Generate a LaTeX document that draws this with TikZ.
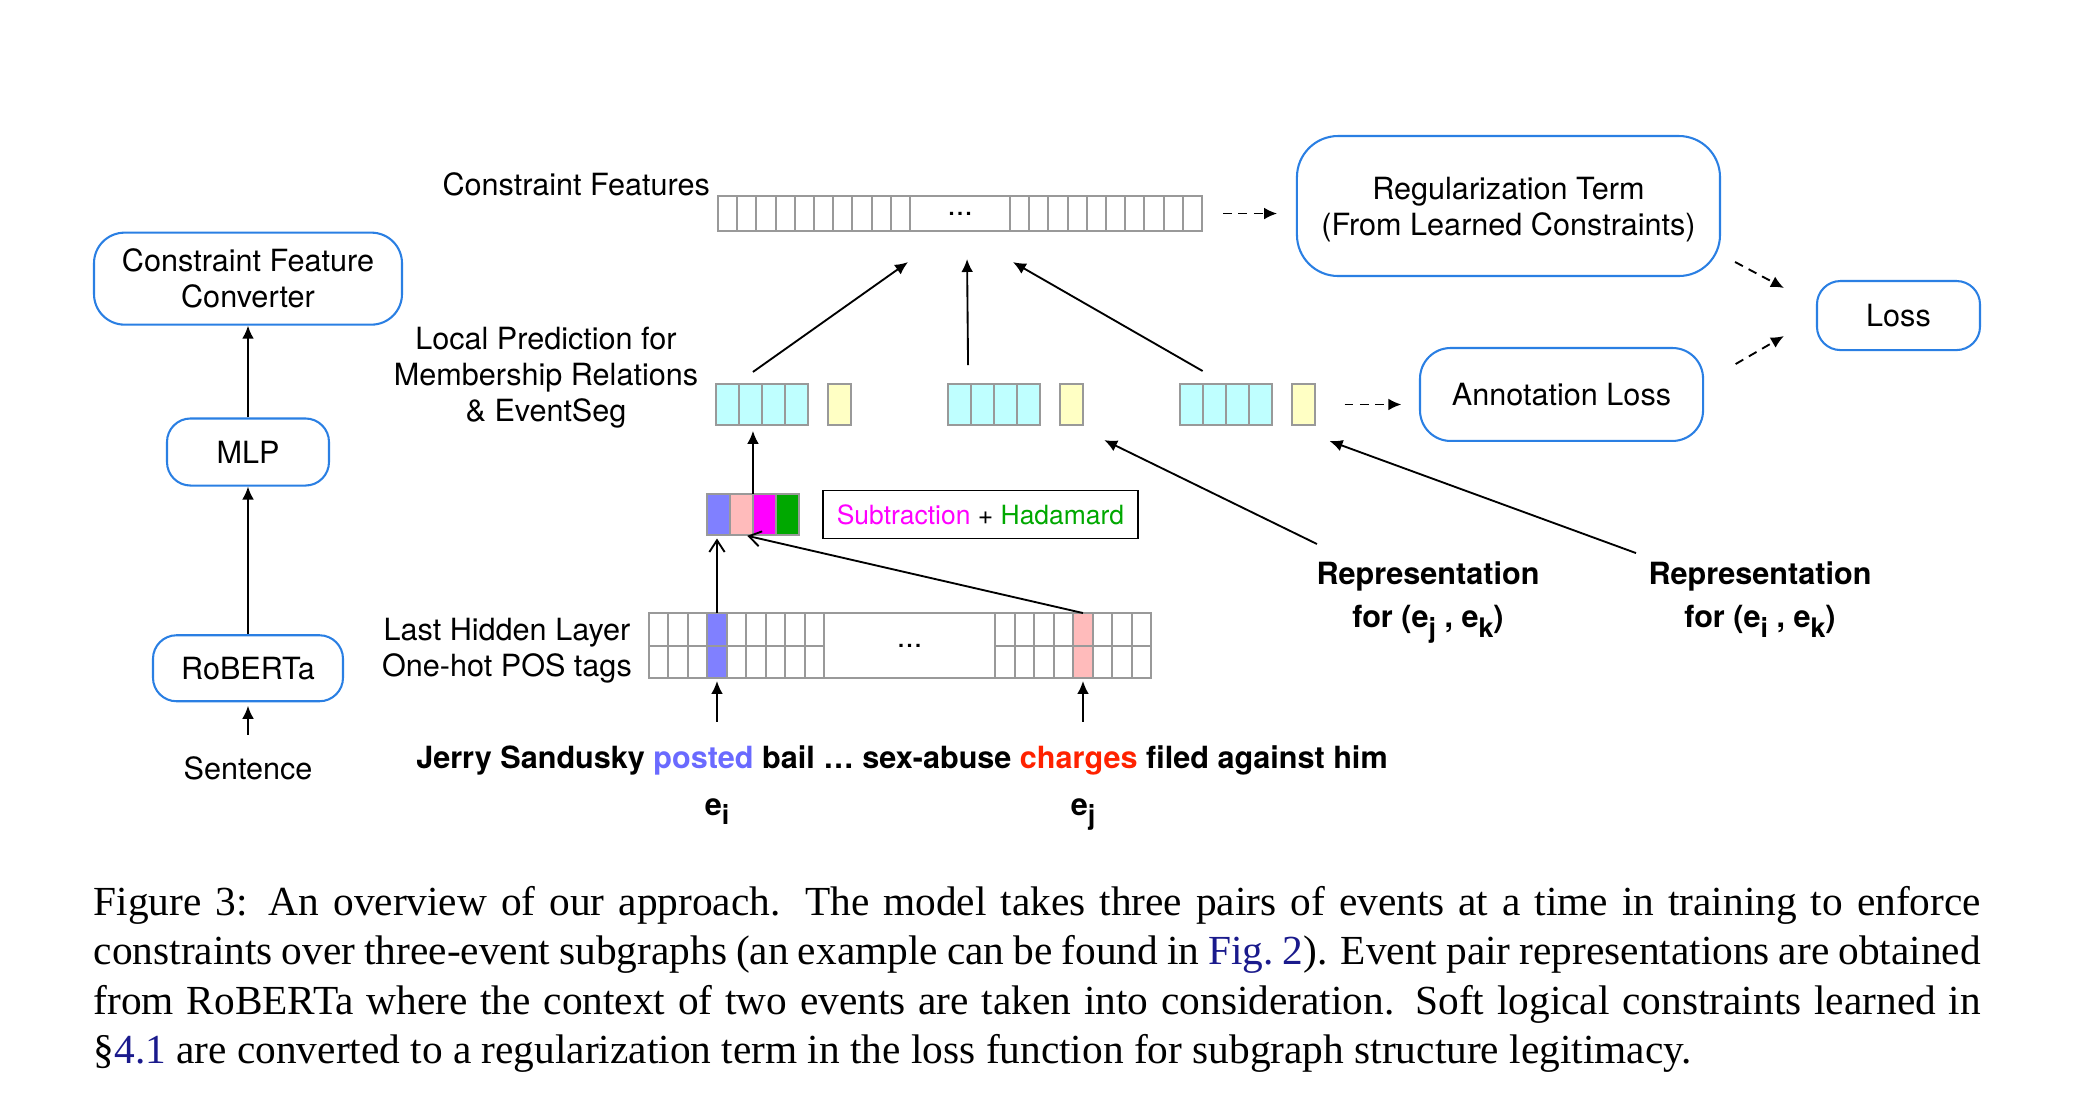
\documentclass[tikz,border=0pt]{standalone}
\usepackage{fontspec}
\setmainfont{TeX Gyre Heros}
\newfontfamily\capfont{Liberation Serif}
\usepackage{xcolor}
\usepackage{tikz}
\usetikzlibrary{arrows.meta,positioning,calc}
\definecolor{boxblue}{HTML}{2A7FE3}
\definecolor{cellgray}{HTML}{999999}
\definecolor{softcyan}{HTML}{BFFFFF}
\definecolor{softyellow}{HTML}{FFFFC4}
\definecolor{eventblue}{HTML}{8080FF}
\definecolor{eventpink}{HTML}{FFBBBB}
\definecolor{submagenta}{HTML}{FF00FF}
\definecolor{hadgreen}{HTML}{00A800}
\definecolor{postedblue}{HTML}{6A6AFF}
\definecolor{chargesred}{HTML}{FF2200}
\definecolor{linknavy}{HTML}{1A1A8C}
\newcommand{\diagfont}{\fontsize{7.4}{8.7}\selectfont}
\newcommand{\ev}[1]{e\raisebox{-0.32em}{\fontsize{6.5}{6.5}\selectfont #1}}
\tikzset{
  flow/.style={-{Latex[length=1.1mm,width=1mm]}, line width=0.45pt},
  barbflow/.style={-{Straight Barb[length=1mm,width=1.3mm]}, line width=0.45pt},
  dflow/.style={flow, dash pattern=on 0.75mm off 0.55mm},
  lbl/.style={font=\diagfont, align=center},
  roundbox/.style={draw=boxblue, line width=0.5pt, rounded corners=2mm, align=center,
                   font=\diagfont, inner sep=0pt},
  cellbar/.style={draw=cellgray, line width=0.5pt, inner sep=0pt, outer sep=0pt, fill=white, font=\diagfont},
  cellline/.style={draw=cellgray, line width=0.5pt},
  predvec/.style={cellbar, fill=softcyan, minimum width=7.82mm, minimum height=3.49mm},
  predbit/.style={cellbar, fill=softyellow, minimum width=1.955mm, minimum height=3.49mm},
  pairbit/.style={cellbar, minimum width=1.955mm, minimum height=3.49mm},
  hidbit/.style={cellbar, minimum width=1.6575mm, minimum height=5.525mm, anchor=south west}
}

\begin{document}
\begin{tikzpicture}[x=1mm, y=1mm]
  \useasboundingbox (0,0) rectangle (176.63,-94.95);

  % left column
  \node[lbl] (sentence) at (21.08,-65.28) {Sentence};
  \node[roundbox, above=3.35mm of sentence, minimum width=16.15mm, minimum height=5.61mm] (roberta) {RoBERTa};
  \node[roundbox, above=12.55mm of roberta, minimum width=13.77mm, minimum height=5.7mm] (mlp) {MLP};
  \node[roundbox, above=7.8mm of mlp, minimum width=26.18mm, minimum height=7.82mm, rounded corners=2.6mm] (converter) {Constraint Feature\\Converter};

  % constraint features
  \node[cellbar, minimum width=41.14mm, minimum height=2.975mm] (cfbar) at (81.6,-18.15) {...};
  \foreach \i in {1,...,10} {
    \draw[cellline] ([xshift=\i*1.632mm]cfbar.south west) -- ([xshift=\i*1.632mm]cfbar.north west);
    \draw[cellline] ([xshift=-\i*1.632mm]cfbar.south east) -- ([xshift=-\i*1.632mm]cfbar.north east);
  }
  \node[lbl, anchor=south east] (cflabel) at ([xshift=0.55mm,yshift=-1.26mm]cfbar.north west) {Constraint Features};

  % regularization and losses
  \node[roundbox, minimum width=35.96mm, minimum height=11.9mm, rounded corners=3.5mm, text depth=0pt] (reg) at (128.22,-17.51) {Regularization Term\\(From Learned Constraints)};
  \node[roundbox, minimum width=13.86mm, minimum height=5.87mm] (loss) at (161.37,-26.82) {Loss};
  \node[roundbox, minimum width=24.06mm, minimum height=7.9mm, rounded corners=2.6mm] (annot) at (132.73,-33.53) {Annotation Loss};

  % local predictions
  \node[predvec] (g1) at (64.77,-34.38) {};
  \node[predbit, right=1.7mm of g1] (y1) {};
  \node[predvec, right=8.25mm of y1] (g2) {};
  \node[predbit, right=1.7mm of g2] (y2) {};
  \node[predvec, right=8.25mm of y2] (g3) {};
  \node[predbit, right=1.7mm of g3] (y3) {};
  \foreach \g in {g1,g2,g3}
    \foreach \i in {1,2,3}
      \draw[cellline] ([xshift=\i*1.955mm]\g.south west) -- ([xshift=\i*1.955mm]\g.north west);
  \node[lbl] (predlabel) at (46.41,-32.11) {Local Prediction for\\Membership Relations\\\& EventSeg};

  % pair representation
  \node[pairbit, fill=eventblue] (cb1) at (61.07,-43.73) {};
  \node[pairbit, fill=eventpink, right=0mm of cb1] (cb2) {};
  \node[pairbit, fill=submagenta, right=0mm of cb2] (cb3) {};
  \node[pairbit, fill=hadgreen, right=0mm of cb3] (cb4) {};
  \node[draw, line width=0.45pt, minimum width=26.0mm, minimum height=4.08mm, outer sep=0pt,
        font=\fontsize{6.4}{7.5}\selectfont, right=2.04mm of cb4] (opbox)
        {\textcolor{submagenta}{Subtraction} + \textcolor{hadgreen}{Hadamard}};

  % hidden layer
  \node[cellbar, minimum width=42.71mm, minimum height=5.525mm] (hidden) at (76.5,-54.87) {};
  \node[hidbit, fill=eventblue] (hblue) at ([xshift=4.97mm]hidden.south west) {};
  \node[hidbit, fill=eventpink] (hpink) at ([xshift=36.08mm]hidden.south west) {};
  \foreach \i in {1,...,9}
    \draw[cellline] ([xshift=\i*1.6575mm]hidden.south west) -- ([xshift=\i*1.6575mm]hidden.north west);
  \foreach \i in {0,...,7}
    \draw[cellline] ([xshift=29.45mm+\i*1.6575mm]hidden.south west) -- ([xshift=29.45mm+\i*1.6575mm]hidden.north west);
  \draw[cellline] (hidden.west) -- ++(14.92mm,0);
  \draw[cellline] (hidden.east) -- ++(-13.26mm,0);
  \node[lbl] (hdots) at ([xshift=22.18mm]hidden.west) {...};
  \node[lbl, left=0.2mm of hidden, yshift=-0.4mm] (hidlabel) {Last Hidden Layer\\One-hot POS tags};

  % sentence and events
  \node[lbl, font=\diagfont\bfseries, anchor=base] (sent) at (76.67,-65.28)
        {Jerry Sandusky \textcolor{postedblue}{posted} bail \ldots{} sex-abuse \textcolor{chargesred}{charges} filed against him};
  \node[lbl, font=\diagfont\bfseries, anchor=base] (ei) at (hblue.center |- 0,-69.28) {\ev{i}};
  \node[lbl, font=\diagfont\bfseries, anchor=base] (ej) at (hpink.center |- 0,-69.28) {\ev{j}};

  % representations
  \node[lbl, font=\diagfont\bfseries, anchor=north] (repjk) at (121.38,-46.47) {Representation\\[1.8pt]for (\ev{j} , \ev{k})};
  \node[lbl, font=\diagfont\bfseries, anchor=north] (repik) at (149.6,-46.47) {Representation\\[1.8pt]for (\ev{i} , \ev{k})};

  % caption
  \node[anchor=base west, inner sep=0pt, font=\capfont\fontsize{10}{12}\selectfont] (caption) at (7.9,-77.78)
    {\parbox[t]{160.4mm}{\emergencystretch=3em\hyphenpenalty=10000
      Figure 3: An overview of our approach. The model takes three pairs of events at a time in training to enforce\linebreak
      constraints over three-event subgraphs (an example can be found in \textcolor{linknavy}{Fig.~2}). Event pair representations are obtained\linebreak
      from RoBERTa where the context of two events are taken into consideration. Soft logical constraints learned in\linebreak
      \S\textcolor{linknavy}{4.1} are converted to a regularization term in the loss function for subgraph structure legitimacy.}};

  % connectors
  \draw[flow, shorten <=0.6mm, shorten >=0.3mm] (sentence) -- (roberta);
  \draw[flow] (roberta) -- (mlp);
  \draw[flow] (mlp) -- (converter);

  \draw[dflow, shorten <=1.8mm, shorten >=1.6mm] (cfbar.east) -- (cfbar.east -| reg.west);
  \draw[dflow] ([xshift=1.19mm,yshift=1.28mm]reg.south east) -- ([xshift=-2.72mm,yshift=-0.68mm]loss.north west);
  \draw[dflow] ([xshift=2.68mm,yshift=-1.45mm]annot.north east) -- ([xshift=-2.72mm,yshift=1.28mm]loss.south west);
  \draw[dflow, shorten <=2.5mm, shorten >=1.5mm] (y3.east) -- (y3.east -| annot.west);

  \draw[flow] ([xshift=-0.77mm,yshift=1.02mm]g1.north) -- ([xshift=-4.42mm,yshift=-2.64mm]cfbar.south);
  \draw[flow] ([xshift=-2.21mm,yshift=1.6mm]g2.north) -- ([xshift=0.6mm,yshift=-2.38mm]cfbar.south);
  \draw[flow] ([xshift=-2.0mm,yshift=1.1mm]g3.north) -- ([xshift=4.5mm,yshift=-2.64mm]cfbar.south);

  \draw[flow, shorten >=0.5mm] (cb2.north east) -- (cb2.north east |- g1.south);
  \draw[barbflow, shorten >=0.3mm] (hblue.north) -- (hblue.north |- cb1.south);
  \draw[barbflow, shorten >=0.3mm] (hpink.north) -- ([xshift=0.2mm]cb2.south);
  \draw[flow, shorten <=0.77mm, shorten >=0.25mm] (sent.north -| hblue.south) -- (hblue.south);
  \draw[flow, shorten <=0.77mm, shorten >=0.25mm] (sent.north -| hpink.south) -- (hpink.south);

  \draw[flow] ([xshift=-9.44mm,yshift=0.23mm]repjk.north) -- ([xshift=1.8mm,yshift=-1.28mm]y2.south east);
  \draw[flow] ([xshift=-10.54mm,yshift=-0.54mm]repik.north) -- ([xshift=1.23mm,yshift=-1.36mm]y3.south east);
\end{tikzpicture}
\end{document}
